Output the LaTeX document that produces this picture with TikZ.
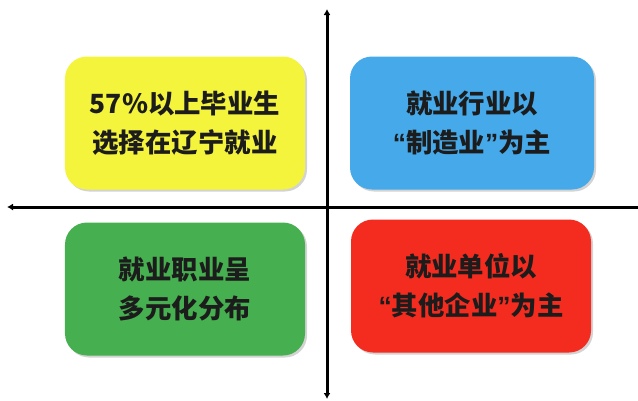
\documentclass[tikz,border=0pt]{standalone}
\usepackage{fontspec}
\newfontfamily\cjk{Noto Sans CJK SC}
\newfontfamily\lat{Liberation Sans}
\newcommand{\myLQ}{{\lat\bfseries “}}
\newcommand{\myRQ}{{\lat\bfseries ”}}
\usetikzlibrary{arrows.meta,shadows}
\definecolor{cyel}{HTML}{F5F43C}
\definecolor{cblu}{HTML}{45A9EA}
\definecolor{cgrn}{HTML}{46AF4F}
\definecolor{cred}{HTML}{F42C20}
\definecolor{ctxt}{HTML}{1C1C1C}
\tikzset{
  quad/.style={rectangle, rounded corners=22bp, minimum width=240bp, minimum height=133bp,
    align=center, text=ctxt, font=\cjk\bfseries\fontsize{26.5}{39}\selectfont,
    drop shadow={opacity=0.35, shadow xshift=2bp, shadow yshift=-2bp}},
  axis/.style={line width=3bp, black},
  tip/.style={-{Latex[length=6bp,width=7bp]}},
}
\begin{document}
\begin{tikzpicture}[x=1bp,y=-1bp]
\useasboundingbox (0,0) rectangle (638,400);
\coordinate (L) at (7,207);
\coordinate (R) at (638,207);
\coordinate (T) at (327,9);
\coordinate (B) at (327,399);
\draw[axis,tip] (R) -- (L);
\draw[axis,{Latex[length=6bp,width=7bp]}-{Latex[length=6bp,width=7bp]}] (B) -- (T);
\node[quad, fill=cyel] (y) at (185,123) {57\%以上毕业生\\选择在辽宁就业};
\node[quad, fill=cblu, minimum width=244bp] (b) at (472,123) {就业行业以\\\myLQ 制造业\myRQ 为主};
\node[quad, fill=cgrn] (g) at (185,289) {就业职业呈\\多元化分布};
\node[quad, fill=cred, minimum width=240bp] (r) at (471,286) {就业单位以\\\myLQ 其他企业\myRQ 为主};
\end{tikzpicture}
\end{document}
